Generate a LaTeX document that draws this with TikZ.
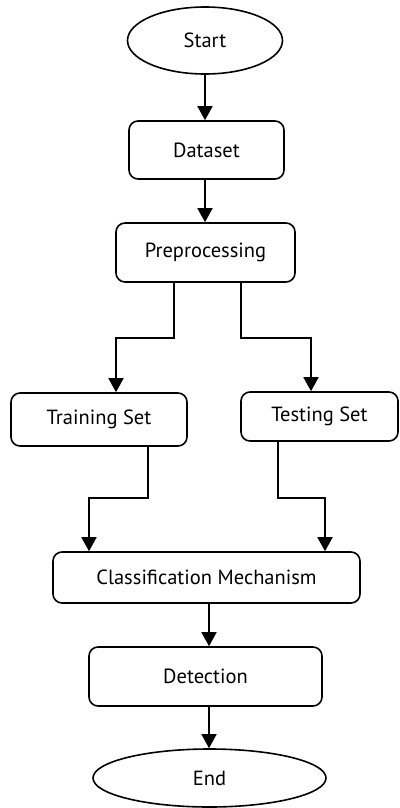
\documentclass[tikz,border=0pt]{standalone}
\usepackage{fontspec}
\setmainfont{PT Sans}
\usetikzlibrary{arrows.meta,shapes.geometric}
\begin{document}
\begin{tikzpicture}[x=1pt,y=-1pt,
  every node/.style={font=\fontsize{20.5}{24}\selectfont, inner sep=0pt},
  box/.style={draw, line width=1.6pt, rounded corners=9pt},
  term/.style={draw, line width=1.6pt, ellipse},
  arr/.style={line width=1.8pt, -{Triangle[width=15pt,length=14pt]}}]
\useasboundingbox (0,0) rectangle (399,808);

% process steps
\node[term, minimum width=155pt, minimum height=67pt] (start) at (205,40.5) {Start};
\node[box, minimum width=155pt, minimum height=58pt] (data) at (206.5,150) {Dataset};
\node[box, minimum width=179pt, minimum height=59pt] (prep) at (205.5,252.5) {Preprocessing};
\node[box, minimum width=176pt, minimum height=53pt] (train) at (99,419.5) {Training Set};
\node[box, minimum width=157pt, minimum height=49pt] (test) at (319.5,416.5) {Testing Set};
\node[box, minimum width=307pt, minimum height=51pt] (class) at (206.5,577.5) {Classification Mechanism};
\node[box, minimum width=233pt, minimum height=59pt] (detect) at (205.5,676.5) {Detection};
\node[term, minimum width=233pt, minimum height=58pt] (end) at (209.5,778) {End};

% connectors
\draw[arr] (start.south) -- (start.south |- data.north);
\draw[arr] ([xshift=-1.5pt]data.south) -- ([xshift=-0.5pt]prep.north);
\draw[arr] ([xshift=-31.5pt]prep.south) -- ++(0,55) -| ([xshift=17pt]train.north);
\draw[arr] ([xshift=35.5pt]prep.south) -- ++(0,55) -| ([xshift=-8.5pt]test.north);
\draw[arr] ([xshift=49pt]train.south) -- ++(0,51) -| ([xshift=-117.5pt]class.north);
\draw[arr] ([xshift=-41.5pt]test.south) -- ++(0,56) -| ([xshift=118.5pt]class.north);
\draw[arr] ([xshift=2.5pt]class.south) -- ([xshift=3.5pt]detect.north);
\draw[arr] ([xshift=3.5pt]detect.south) -- ([xshift=-0.5pt]end.north);
\end{tikzpicture}
\end{document}
